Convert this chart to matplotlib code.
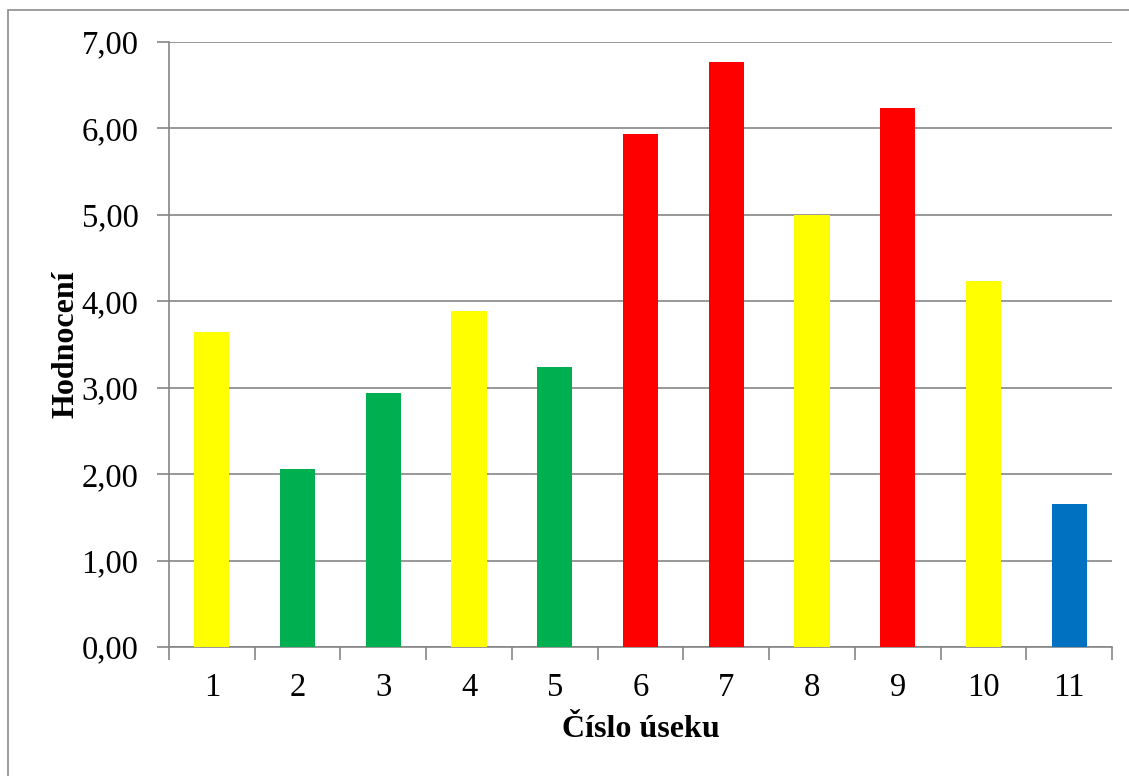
import matplotlib
matplotlib.use("Agg")
import matplotlib.pyplot as plt
from matplotlib.patches import Rectangle
from matplotlib.ticker import FuncFormatter, MultipleLocator

categories = ["1", "2", "3", "4", "5", "6", "7", "8", "9", "10", "11"]
values = [3.65, 2.06, 2.94, 3.89, 3.24, 5.94, 6.77, 5.00, 6.24, 4.23, 1.65]
colors = ["#FFFF00", "#00B050", "#00B050", "#FFFF00", "#00B050", "#FF0000",
          "#FF0000", "#FFFF00", "#FF0000", "#FFFF00", "#0070C0"]

plt.rcParams['font.family'] = ['Liberation Serif', 'DejaVu Serif']

W, H = 1129, 776
fig = plt.figure(figsize=(W / 100, H / 100), dpi=100)
ax = fig.add_axes([169 / W, 1 - 647 / H, (1112 - 169) / W, (647 - 42) / H])

# figure border
fig.patches.append(Rectangle((8 / W, -0.1), 1.2, 1 - 10 / H + 0.1, transform=fig.transFigure,
                             fill=False, edgecolor="#8c8c8c", linewidth=1.2))

x = list(range(len(categories)))
ax.bar(x, values, width=0.41, color=colors, zorder=3)

gc = "#868686"
ax.set_xlim(-0.5, len(categories) - 0.5)
ax.set_ylim(0, 7)
ax.yaxis.set_major_locator(MultipleLocator(1))
ax.yaxis.set_major_formatter(FuncFormatter(lambda v, p: f"{v:.2f}".replace(".", ",")))
ax.grid(axis="y", color=gc, linewidth=1.2, zorder=0)
ax.set_xticks(x)
ax.set_xticklabels(categories)
ax.set_xticks([i - 0.5 for i in range(len(categories) + 1)], minor=True)
ax.tick_params(axis="x", which="major", length=0, labelsize=23.5, pad=18)
ax.tick_params(axis="x", which="minor", length=9, width=1.2, color=gc, direction="out")
ax.tick_params(axis="y", length=9, width=1.2, color=gc, labelsize=23.5, pad=13, direction="out")

for s in ["top", "right"]:
    ax.spines[s].set_visible(False)
for s in ["left", "bottom"]:
    ax.spines[s].set_color(gc)
    ax.spines[s].set_linewidth(1.2)

ax.set_xlabel("Číslo úseku", fontsize=23, fontweight="bold", labelpad=9)
ax.set_ylabel("Hodnocení", fontsize=23, fontweight="bold", labelpad=1)

fig.savefig("out.png", dpi=100)
